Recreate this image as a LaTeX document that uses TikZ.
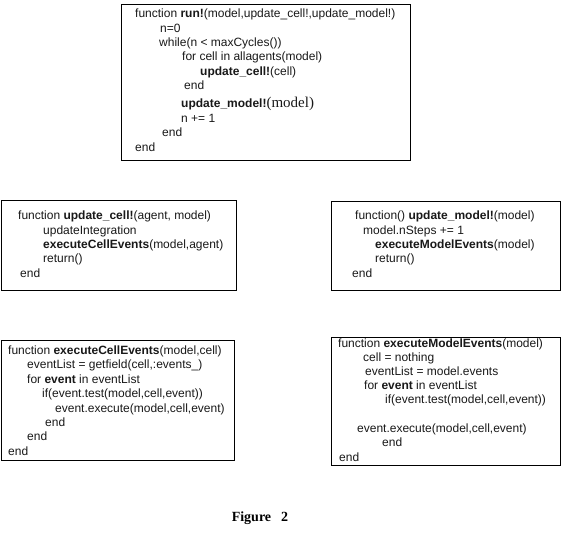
\documentclass[tikz,border=0pt]{standalone}
\usepackage{fontspec}
\setmainfont{Liberation Sans}
\newfontfamily\serifcode{Liberation Serif}
\begin{document}
\begin{tikzpicture}[x=1pt,y=-1pt,
  codebox/.style={draw=black, line width=1pt, inner sep=0pt, anchor=north west},
  codeline/.style={anchor=base west, inner sep=0pt, text=black!90, font=\fontsize{12}{14}\selectfont},
  caption/.style={anchor=base, inner sep=0pt, font=\serifcode\bfseries\fontsize{14}{16}\selectfont}]
\useasboundingbox (0,0) rectangle (561,541);
\fill[white] (0,0) rectangle (561,541);

% frames
\node[codebox, minimum width=289pt, minimum height=156pt] (run) at (121,4) {};
\node[codebox, minimum width=235pt, minimum height=90pt] (updcell) at (1,200) {};
\node[codebox, minimum width=229pt, minimum height=89pt] (updmodel) at (331,201) {};
\node[codebox, minimum width=233pt, minimum height=120pt] (cellev) at (1,340) {};
\node[codebox, minimum width=229pt, minimum height=128pt] (modelev) at (331,337) {};

% run!
\node[codeline] (r1) at (135,17) {function \textbf{run!}(model,update\_cell!,update\_model!)};
\node[codeline] (r2) at (160,32) {n=0};
\node[codeline] (r3) at (159,46) {while(n < maxCycles())};
\node[codeline] (r4) at (182,60) {for cell in allagents(model)};
\node[codeline] (r5) at (200,75) {\textbf{update\_cell!}(cell)};
\node[codeline] (r6) at (184,89) {end};
\node[codeline] (r7) at (181,107) {\textbf{update\_model!}{\serifcode\fontsize{15}{15}\selectfont(model)}};
\node[codeline] (r8) at (181,122) {n += 1};
\node[codeline] (r9) at (162,136) {end};
\node[codeline] (r10) at (135,151) {end};

% update_cell!
\node[codeline] (c1) at (18,219) {function \textbf{update\_cell!}(agent, model)};
\node[codeline] (c2) at (43,234) {updateIntegration};
\node[codeline] (c3) at (43,248) {\textbf{executeCellEvents}(model,agent)};
\node[codeline] (c4) at (43,262) {return()};
\node[codeline] (c5) at (20,277) {end};

% update_model!
\node[codeline] (m1) at (355,219) {function() \textbf{update\_model!}(model)};
\node[codeline] (m2) at (363,234) {model.nSteps += 1};
\node[codeline] (m3) at (375,248) {\textbf{executeModelEvents}(model)};
\node[codeline] (m4) at (375,262) {return()};
\node[codeline] (m5) at (352,277) {end};

% executeCellEvents
\node[codeline] (e1) at (8,354) {function \textbf{executeCellEvents}(model,cell)};
\node[codeline] (e2) at (27,368) {eventList = getfield(cell,:events\_)};
\node[codeline] (e3) at (27,383) {for \textbf{event} in eventList};
\node[codeline] (e4) at (42,397) {if(event.test(model,cell,event))};
\node[codeline] (e5) at (55,412) {event.execute(model,cell,event)};
\node[codeline] (e6) at (45,426) {end};
\node[codeline] (e7) at (27,440) {end};
\node[codeline] (e8) at (8,455) {end};

% executeModelEvents
\node[codeline] (x1) at (338,347) {function \textbf{executeModelEvents}(model)};
\node[codeline] (x2) at (363,361) {cell = nothing};
\node[codeline] (x3) at (365,375) {eventList = model.events};
\node[codeline] (x4) at (364,389) {for \textbf{event} in eventList};
\node[codeline] (x5) at (385,403) {if(event.test(model,cell,event))};
\node[codeline] (x6) at (357,432) {event.execute(model,cell,event)};
\node[codeline] (x7) at (382,446) {end};
\node[codeline] (x8) at (339,461) {end};

% caption
\node[caption] (fig) at (260,521) {Figure\hspace{10pt}2};
\end{tikzpicture}
\end{document}
